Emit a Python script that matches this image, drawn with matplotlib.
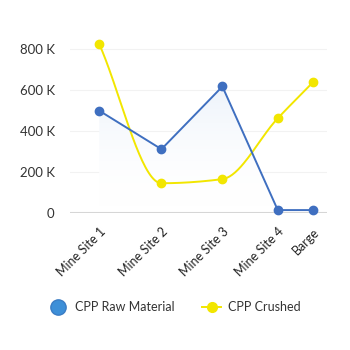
import numpy as np
import matplotlib.pyplot as plt
import matplotlib.transforms as mtransforms
from matplotlib.colors import LinearSegmentedColormap
from matplotlib.lines import Line2D
from matplotlib.patches import Polygon

plt.rcParams['font.family'] = ['Lato', 'DejaVu Sans']

sites = ['Mine Site 1', 'Mine Site 2', 'Mine Site 3', 'Mine Site 4', 'Barge']
raw_material = [500e3, 312e3, 618e3, 15e3, 15e3]
crushed = [825e3, 146e3, 166e3, 463e3, 640e3]
yticks = [0, 200e3, 400e3, 600e3, 800e3]
ytick_labels = ['0', '200 K', '400 K', '600 K', '800 K']

BLUE = '#3f6fc0'
YELLOW = '#f2e600'

# category slots are not evenly spaced on this axis
xpos = np.array([0, 1, 1.98, 2.87, 3.44])


def monotone(x, y, n=40):
    # monotone cubic (Fritsch-Carlson) through the points
    x = np.asarray(x, float)
    y = np.asarray(y, float)
    h = np.diff(x)
    d = np.diff(y) / h
    m = np.zeros_like(y)
    m[0], m[-1] = d[0], d[-1]
    for i in range(1, len(y) - 1):
        if d[i - 1] * d[i] <= 0:
            m[i] = 0
        else:
            w1 = 2 * h[i] + h[i - 1]
            w2 = h[i] + 2 * h[i - 1]
            m[i] = (w1 + w2) / (w1 / d[i - 1] + w2 / d[i])
    xs, ys = [], []
    for i in range(len(h)):
        t = np.linspace(0, 1, n)
        h00 = 2 * t**3 - 3 * t**2 + 1
        h10 = t**3 - 2 * t**2 + t
        h01 = -2 * t**3 + 3 * t**2
        h11 = t**3 - t**2
        xs.append(x[i] + t * h[i])
        ys.append(h00 * y[i] + h10 * h[i] * m[i] + h01 * y[i + 1] + h11 * h[i] * m[i + 1])
    return np.concatenate(xs), np.concatenate(ys)


fig = plt.figure(figsize=(3.5, 3.5), dpi=100)
ax = fig.add_axes([0.2, 0.391, 0.734, 0.527])
ax.set_xlim(-0.47, 3.66)
ax.set_ylim(0, 900e3)

for s in ax.spines.values():
    s.set_visible(False)
for v in yticks[1:]:
    ax.axhline(v, color='#f2f2f2', lw=0.8, zorder=0)
ax.axhline(0, color='#d6d6d6', lw=2.2, zorder=2.5)

# faint gradient under the raw material line
grad = np.linspace(1, 0, 256).reshape(-1, 1) ** 2
fade = LinearSegmentedColormap.from_list('fade', ['#ffffff', '#edf3fb'])
img = ax.imshow(grad, cmap=fade, aspect='auto', interpolation='bilinear',
                extent=[xpos[0], xpos[-1], 0, max(raw_material)], zorder=1)
poly = Polygon(np.column_stack([np.r_[xpos, xpos[-1], xpos[0]],
                                np.r_[raw_material, 0, 0]]),
               closed=True, transform=ax.transData)
img.set_clip_path(poly)

ax.plot(xpos, raw_material, color=BLUE, lw=1.4, marker='o', ms=6,
        zorder=3, clip_on=False)
sx, sy = monotone(xpos, crushed)
ax.plot(sx, sy, color=YELLOW, lw=1.4, zorder=2, clip_on=False)
ax.plot(xpos, crushed, 'o', color=YELLOW, ms=6, zorder=2, clip_on=False)

ax.set_yticks(yticks)
ax.set_yticklabels(ytick_labels, fontsize=9.5, color='#333333')
ax.set_xticks(xpos)
ax.set_xticklabels(sites, rotation=45, ha='right', rotation_mode='anchor',
                   fontsize=9, color='#222222')
shift = mtransforms.ScaledTranslation(5 / 100, 0, fig.dpi_scale_trans)
for lbl in ax.get_xticklabels():
    lbl.set_transform(lbl.get_transform() + shift)
ax.tick_params(length=0, pad=9)
ax.tick_params(axis='y', pad=11)

handles = [
    Line2D([], [], ls='none', marker='o', ms=11, color='#3d8fd8',
           markeredgecolor='#3a7cc4'),
    Line2D([], [], color=YELLOW, lw=1.4, marker='o', ms=7),
]
fig.legend(handles, ['CPP Raw Material', 'CPP Crushed'], loc='center',
           bbox_to_anchor=(0.5, 0.123), ncol=2, frameon=False, fontsize=9,
           handlelength=1.5, columnspacing=2.2, handletextpad=0.6,
           labelcolor='#333333')

fig.savefig('out.png', dpi=100, facecolor='white')
